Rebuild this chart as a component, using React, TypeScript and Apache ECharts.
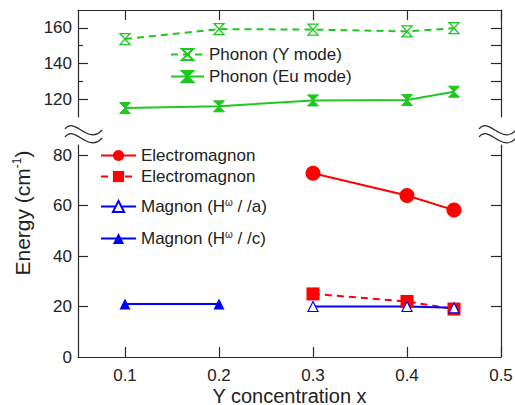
import React, { useEffect, useRef } from "react";
import * as echarts from "echarts";

// ---- data ----
const xTicks = [0.1, 0.2, 0.3, 0.4, 0.5];
const topYLabels = [120, 140, 160];
const topYMinor = [130, 150];
const topYRight = [120, 130, 140, 150, 160];
const bottomYLabels = [0, 20, 40, 60, 80];
const bottomYTicks = [20, 40, 60, 80];

const phononYx = [0.1, 0.2, 0.3, 0.4, 0.45];
const phononY = [153.7, 159.3, 159, 158, 159.8];
const phononEux = [0.1, 0.2, 0.3, 0.4, 0.45];
const phononEu = [115, 116, 119.3, 119.5, 124.2];

const emCircleX = [0.3, 0.4, 0.45];
const emCircle = [72.8, 64, 58.2];
const emSquareX = [0.3, 0.4, 0.45];
const emSquare = [25, 22, 19];
const magAx = [0.3, 0.4, 0.45];
const magA = [20, 20, 19.5];
const magCx = [0.1, 0.2];
const magC = [21, 21];

const pair = (xs: number[], ys: number[]) => xs.map((x, i) => [x, ys[i]]);

const FONT = "Liberation Sans";
const AX = "#2a2a2a";
const GREEN = "#1ec81e";
const RED = "#ff0000";
const BLUE = "#0000ff";
const HOURGLASS = "path://M0,0L10,0L0,10L10,10Z";

export default function App() {
  const ref = useRef<HTMLDivElement>(null);
  useEffect(() => {
    if (!ref.current) return;
    const chart = echarts.init(ref.current, null, { renderer: "svg" });
    const lineStyle = { color: AX, width: 1.2 };
    const labelStyle = { fontSize: 17, color: "#222", fontFamily: FONT };
    const wave = (x: number, y: number) => ({
      type: "bezierCurve",
      shape: { x1: x, y1: y, cpx1: x + 10, cpy1: y - 13, cpx2: x + 23, cpy2: y + 17, x2: x + 37, y2: y + 1 },
      style: { stroke: AX, lineWidth: 1.2, fill: "none" },
      z: 100,
    });
    const option: any = {
      animation: false,
      backgroundColor: "#fff",
      textStyle: { fontFamily: FONT },
      grid: [
        { left: 78, right: 14, top: 10, height: 107, outerBoundsMode: "none", containLabel: false },
        { left: 78, right: 14, top: 145, bottom: 48, outerBoundsMode: "none", containLabel: false },
      ],
      xAxis: [
        {
          gridIndex: 0, type: "value", position: "top", min: 0.05, max: 0.5,
          axisLine: { show: true, onZero: false, lineStyle },
          axisTick: { show: true, inside: true, length: 10, customValues: xTicks, lineStyle },
          axisLabel: { show: false },
          splitLine: { show: false },
        },
        {
          gridIndex: 1, type: "value", position: "bottom", min: 0.05, max: 0.5,
          name: "Y concentration x", nameLocation: "middle", nameGap: 29, nameMoveOverlap: false,
          nameTextStyle: { ...labelStyle, fontSize: 20, lineHeight: 19 },
          axisLine: { show: true, onZero: false, lineStyle },
          axisTick: { show: true, inside: true, length: 10, customValues: xTicks, lineStyle },
          axisLabel: { ...labelStyle, lineHeight: 17, customValues: xTicks, margin: 10, formatter: (v: number) => v.toFixed(1) },
          splitLine: { show: false },
        },
      ],
      yAxis: [
        {
          gridIndex: 0, type: "value", position: "left", min: 110, max: 170,
          axisLine: { show: true, onZero: false, lineStyle },
          axisTick: { show: true, inside: true, length: 10, customValues: topYLabels, lineStyle },
          axisLabel: { ...labelStyle, customValues: topYLabels, margin: 6 },
          splitLine: { show: false },
        },
        {
          gridIndex: 0, type: "value", position: "left", min: 110, max: 170,
          axisLine: { show: false },
          axisTick: { show: true, inside: true, length: 5, customValues: topYMinor, lineStyle },
          axisLabel: { show: false },
          splitLine: { show: false },
        },
        {
          gridIndex: 0, type: "value", position: "right", min: 110, max: 170,
          axisLine: { show: true, onZero: false, lineStyle },
          axisTick: { show: true, inside: true, length: 10, customValues: topYRight, lineStyle },
          axisLabel: { show: false },
          splitLine: { show: false },
        },
        {
          gridIndex: 1, type: "value", position: "left", min: 0, max: 84,
          axisLine: { show: true, onZero: false, lineStyle },
          axisTick: { show: true, inside: true, length: 10, customValues: bottomYTicks, lineStyle },
          axisLabel: { ...labelStyle, customValues: bottomYLabels, margin: 6 },
          splitLine: { show: false },
        },
        {
          gridIndex: 1, type: "value", position: "right", min: 0, max: 84,
          axisLine: { show: true, onZero: false, lineStyle },
          axisTick: { show: true, inside: true, length: 10, customValues: bottomYTicks, lineStyle },
          axisLabel: { show: false },
          splitLine: { show: false },
        },
      ],
      legend: [
        {
          data: ["Phonon (Y mode)", "Phonon (Eu mode)"], orient: "vertical", left: 165, top: 41,
          itemWidth: 33, itemHeight: 14, itemGap: 5, selectedMode: false,
          textStyle: { ...labelStyle },
        },
        {
          data: ["Electromagnon", "Electromagnon "], orient: "vertical", left: 95, top: 142,
          itemWidth: 35, itemHeight: 14, itemGap: 4, selectedMode: false,
          formatter: (n: string) => n.trim(),
          textStyle: { ...labelStyle },
        },
        {
          data: ["Magnon a", "Magnon c"], orient: "vertical", left: 95, top: 192,
          itemWidth: 35, itemHeight: 14, itemGap: 14, selectedMode: false,
          formatter: (n: string) => (n === "Magnon a" ? "Magnon (H{sup|ω} / /a)" : "Magnon (H{sup|ω} / /c)"),
          textStyle: { ...labelStyle, rich: { sup: { fontSize: 10, color: "#222", fontFamily: FONT, padding: [0, 0, 9, 0] } } },
        },
      ],
      series: [
        {
          name: "Phonon (Y mode)", type: "line", xAxisIndex: 0, yAxisIndex: 0,
          data: pair(phononYx, phononY), symbol: HOURGLASS, symbolSize: [10, 11],
          lineStyle: { color: GREEN, width: 2, type: [7, 5] },
          itemStyle: { color: "#fff", borderColor: GREEN, borderWidth: 1.3 },
        },
        {
          name: "Phonon (Eu mode)", type: "line", xAxisIndex: 0, yAxisIndex: 0,
          data: pair(phononEux, phononEu), symbol: HOURGLASS, symbolSize: [11, 11],
          lineStyle: { color: GREEN, width: 2 },
          itemStyle: { color: GREEN, borderColor: GREEN, borderWidth: 1 },
        },
        {
          name: "Electromagnon ", type: "line", xAxisIndex: 1, yAxisIndex: 3,
          data: pair(emSquareX, emSquare), symbol: "rect", symbolSize: 13,
          lineStyle: { color: RED, width: 2, type: [7, 5] },
          itemStyle: { color: RED },
        },
        {
          name: "Magnon a", type: "line", xAxisIndex: 1, yAxisIndex: 3,
          data: pair(magAx, magA), symbol: "triangle", symbolSize: 10,
          lineStyle: { color: BLUE, width: 2 },
          itemStyle: { color: "#fff", borderColor: BLUE, borderWidth: 1.2 },
        },
        {
          name: "Electromagnon", type: "line", xAxisIndex: 1, yAxisIndex: 3,
          data: pair(emCircleX, emCircle), symbol: "circle", symbolSize: 15,
          lineStyle: { color: RED, width: 2 },
          itemStyle: { color: RED },
        },
        {
          name: "Magnon c", type: "line", xAxisIndex: 1, yAxisIndex: 3,
          data: pair(magCx, magC), symbol: "triangle", symbolSize: 11,
          lineStyle: { color: BLUE, width: 2 },
          itemStyle: { color: BLUE },
        },
      ],
      graphic: [
        wave(65, 129),
        wave(65, 137),
        wave(479, 129),
        wave(479, 137),
        {
          type: "text", x: 22, y: 213, rotation: Math.PI / 2,
          style: {
            text: "Energy (cm{sup|-1})",
            fontSize: 21, fontFamily: FONT, fill: "#222",
            align: "center", verticalAlign: "middle",
            rich: { sup: { fontSize: 12, fontFamily: FONT, fill: "#222", padding: [0, 0, 11, 0] } },
          },
        },
      ],
    };
    chart.setOption(option);
    return () => chart.dispose();
  }, []);
  return (
    <div
      ref={ref}
      style={{ position: "fixed", left: 0, top: 0, width: 515, height: 405, background: "#fff" }}
    />
  );
}
